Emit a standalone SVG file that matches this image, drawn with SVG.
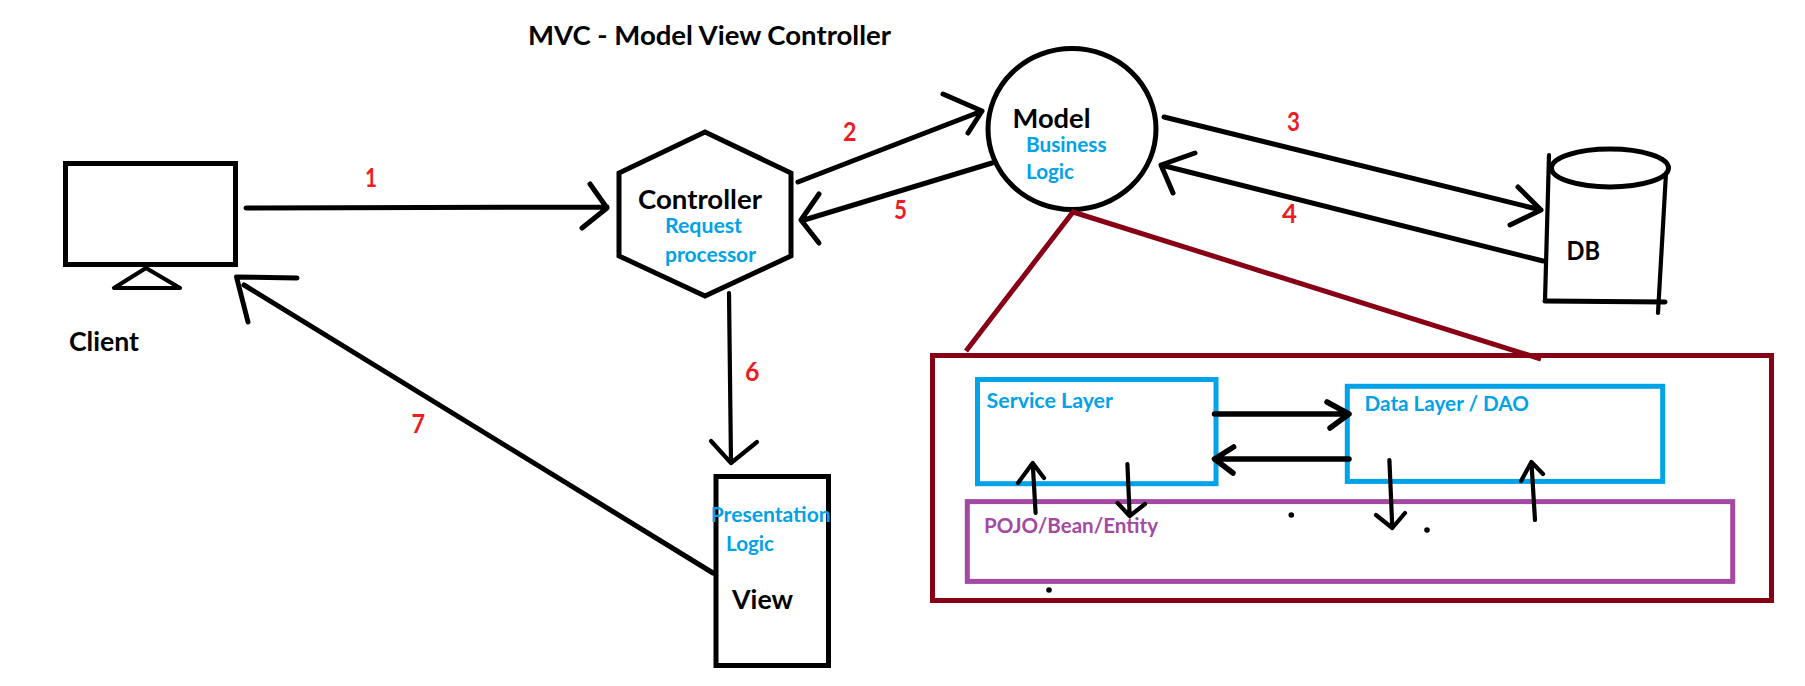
<svg xmlns="http://www.w3.org/2000/svg" width="1805" height="686" viewBox="0 0 1805 686">
<style>
text{font-family:Lato,"Liberation Sans",sans-serif;font-weight:700}
.t{font-size:26.500px;fill:#000}
.b{font-size:21px;fill:#00a2e8}
.n{font-size:27px;fill:#ed1c24}
.p{font-size:21px;fill:#a349a4}
.s{fill:none;stroke:#000;stroke-width:5;stroke-linecap:round;stroke-linejoin:round}
.m{fill:none;stroke:#000;stroke-width:5}
.h{fill:none;stroke:#00a2e8;stroke-width:5}
.d{fill:none;stroke:#880015;stroke-width:5}
.u{fill:none;stroke:#a349a4;stroke-width:5}
.k{fill:none;stroke:#000;stroke-width:5.500;stroke-linecap:round;stroke-linejoin:round}
.c{fill:none;stroke:#000;stroke-width:4.200;stroke-linecap:round;stroke-linejoin:round}
</style>
<text id="title" class="t" x="528" y="45" textLength="363" lengthAdjust="spacingAndGlyphs">MVC - Model View Controller</text>
<g id="client">
<rect class="m" x="65.500" y="163.500" width="170" height="101"/>
<path class="c" d="M146,268L114,288H180Z"/>
<text class="t" x="69" y="351" textLength="70" lengthAdjust="spacingAndGlyphs">Client</text>
</g>
<g id="controller">
<polygon class="m" points="705,132 791,173 791,256 705,296 619,256 619,173"/>
<text class="t" x="638" y="209" textLength="124" lengthAdjust="spacingAndGlyphs">Controller</text>
<text class="b" x="665" y="233" textLength="77" lengthAdjust="spacingAndGlyphs">Request</text>
<text class="b" x="665" y="262" textLength="91" lengthAdjust="spacingAndGlyphs">processor</text>
</g>
<g id="model">
<ellipse class="m" cx="1072" cy="129" rx="84" ry="80.500"/>
<text class="t" x="1012.500" y="128" textLength="78" lengthAdjust="spacingAndGlyphs">Model</text>
<text class="b" x="1026" y="152" textLength="80.500" lengthAdjust="spacingAndGlyphs">Business</text>
<text class="b" x="1026" y="179" textLength="48" lengthAdjust="spacingAndGlyphs">Logic</text>
</g>
<g id="db">
<ellipse class="m" cx="1610" cy="168" rx="58.500" ry="19"/>
<path class="c" d="M1549,155L1545,301"/>
<path class="s" d="M1545,301L1665,302"/>
<path class="c" d="M1666,173L1658,313"/>
<text class="t" x="1566.600" y="260" textLength="33.500" lengthAdjust="spacingAndGlyphs">DB</text>
</g>
<g id="view">
<rect class="m" x="716" y="476.500" width="112.500" height="189"/>
<text class="b" x="710.700" y="522" textLength="120" lengthAdjust="spacingAndGlyphs">Presentation</text>
<text class="b" x="726" y="551" textLength="48" lengthAdjust="spacingAndGlyphs">Logic</text>
<text class="t" x="732" y="609" textLength="61" lengthAdjust="spacingAndGlyphs">View</text>
</g>
<g id="model-detail">
<rect class="d" x="932.500" y="355.500" width="839" height="245"/>
</g>
<g id="service-layer">
<rect class="h" x="977.500" y="379.500" width="238.500" height="104.200"/>
<text class="b" x="986.600" y="408" textLength="126.400" lengthAdjust="spacingAndGlyphs">Service Layer</text>
</g>
<g id="data-layer">
<rect class="h" x="1347.300" y="386.300" width="315.400" height="95.100"/>
<text class="b" x="1364.600" y="410.700" textLength="164.400" lengthAdjust="spacingAndGlyphs">Data Layer / DAO</text>
</g>
<g id="pojo">
<rect class="u" x="967.300" y="501.600" width="765.400" height="79.800"/>
<text class="p" x="984" y="532.700" textLength="174" lengthAdjust="spacingAndGlyphs">POJO/Bean/Entity</text>
</g>
<g id="connectors">
<path class="s" d="M246,208L607,207M590,184L607,208L582,228"/>
<path class="s" d="M798,182L982,111M943,94L982,111L968,133"/>
<path class="s" d="M992,163L804,220M819,194L801,220L819,243"/>
<path class="s" d="M1164,117L1541,210M1518,187L1541,210L1510,225"/>
<path class="s" d="M1543,261L1161,165M1195,153L1161,165L1173,193"/>
<path class="c" d="M729,293L731,463M711,441L731,463L757,442"/>
<path class="s" d="M713,573L244,285M248,322L236.500,277L297,278"/>
<path class="d" d="M966,351L1073,212L1541,359"/>
<path class="k" d="M1214.500,414H1349M1327,402L1349,414L1330,428"/>
<path class="k" d="M1349,459H1214.500M1233.600,447L1214.500,459L1233,473"/>
<path class="c" d="M1035.600,513L1032.700,463M1018,483L1032.700,463L1044,478"/>
<path class="c" d="M1127.400,464L1129.700,516M1117.600,503L1129.700,516L1145,504"/>
<path class="c" d="M1389.400,460L1392.300,528M1376,515L1392.300,528L1405,513"/>
<path class="c" d="M1535,520L1531.400,462M1521,481L1531.400,462L1543,474"/>
</g>
<circle cx="1291.300" cy="515" r="2.800"/>
<circle cx="1427" cy="530" r="2.800"/>
<circle cx="1049" cy="590" r="2.800"/>
<text class="n" x="365" y="187" textLength="12" lengthAdjust="spacingAndGlyphs">1</text>
<text class="n" x="843" y="141" textLength="13.500" lengthAdjust="spacingAndGlyphs">2</text>
<text class="n" x="1287" y="131" textLength="13" lengthAdjust="spacingAndGlyphs">3</text>
<text class="n" x="1282" y="223" textLength="15" lengthAdjust="spacingAndGlyphs">4</text>
<text class="n" x="894" y="219" textLength="13" lengthAdjust="spacingAndGlyphs">5</text>
<text class="n" x="745" y="381" textLength="14.500" lengthAdjust="spacingAndGlyphs">6</text>
<text class="n" x="411.600" y="433" textLength="13.500" lengthAdjust="spacingAndGlyphs">7</text>
</svg>
